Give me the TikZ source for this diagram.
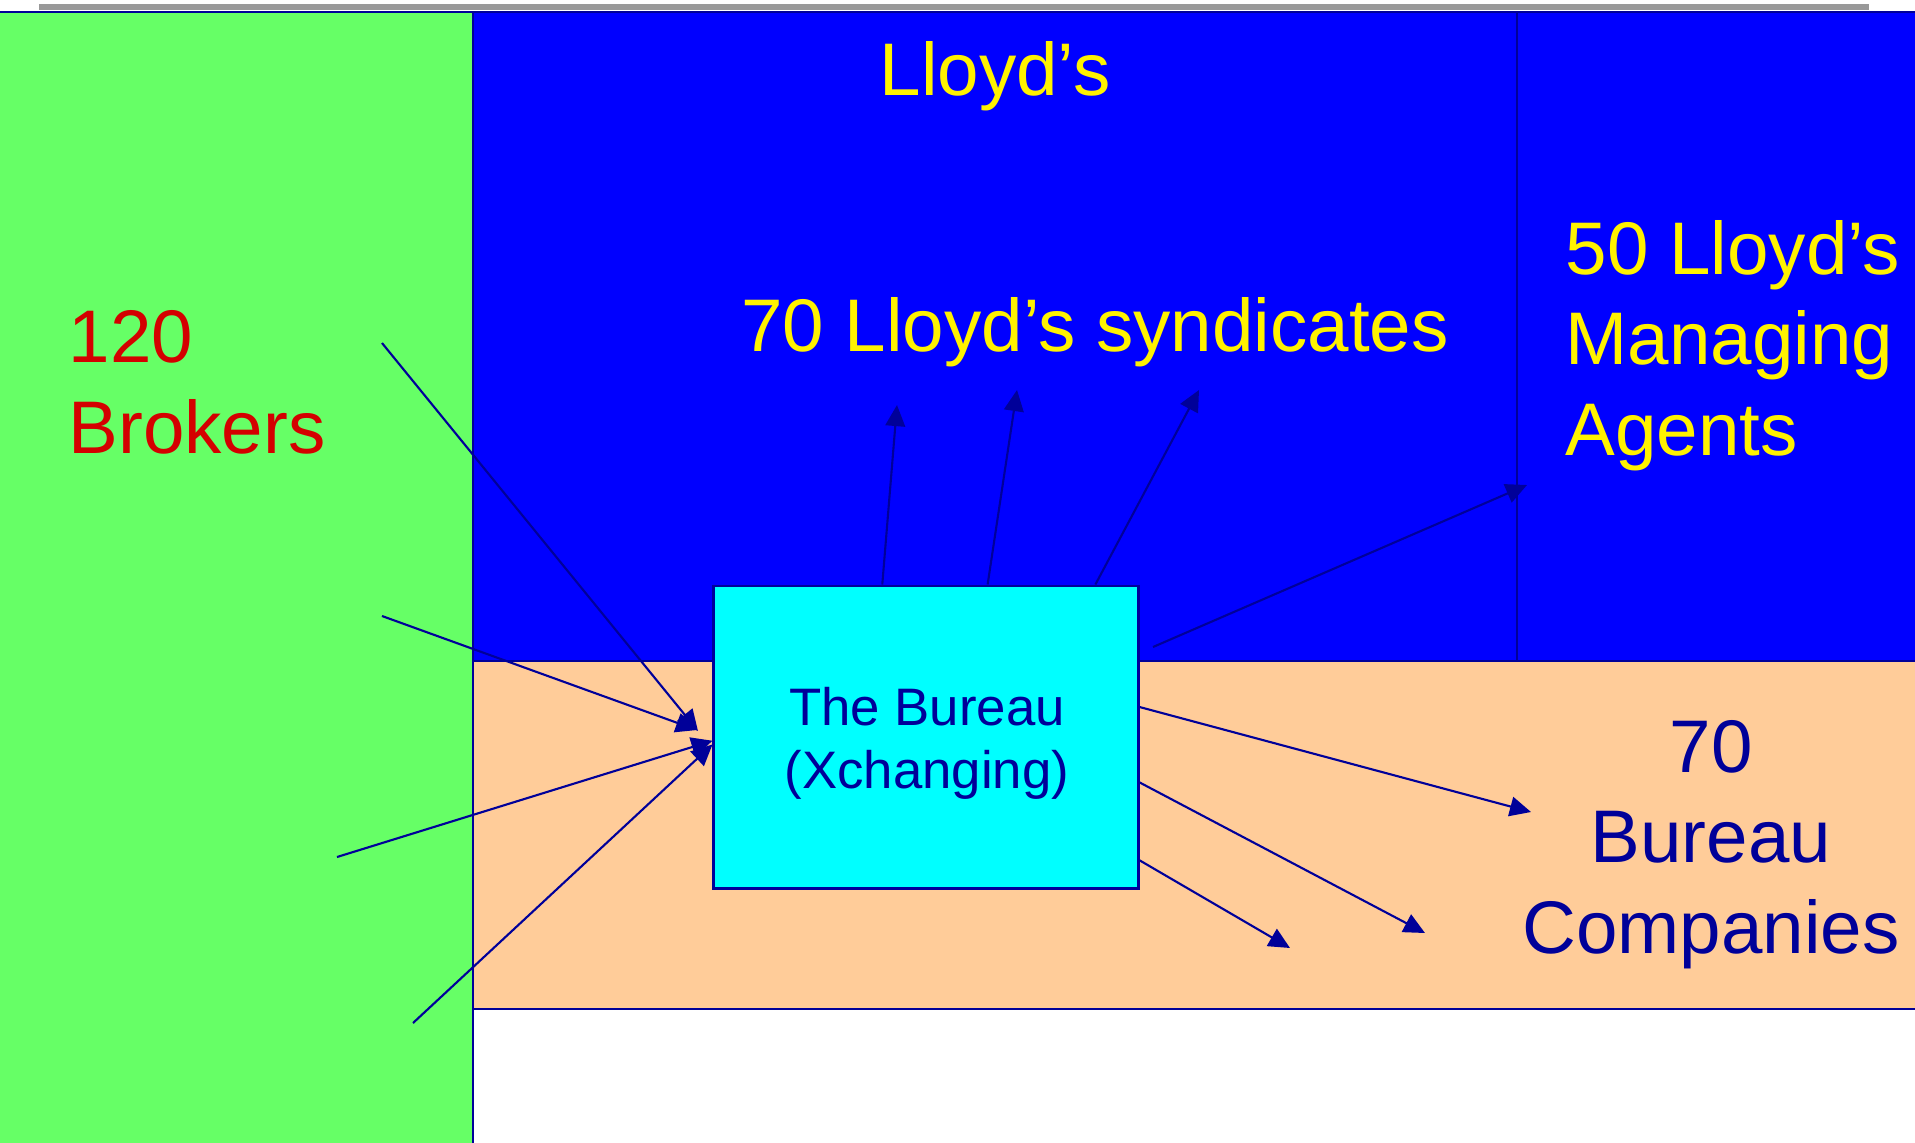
\documentclass[tikz,border=0pt]{standalone}
\usepackage{fontspec}
\setmainfont{Liberation Sans}
\usepackage{tikz}
\usetikzlibrary{arrows.meta}
\definecolor{brokergreen}{HTML}{66FF66}
\definecolor{lloydsblue}{HTML}{0000FF}
\definecolor{bureaupeach}{HTML}{FFCC99}
\definecolor{bureaucyan}{HTML}{00FFFF}
\definecolor{bureaunavy}{HTML}{000099}
\definecolor{brokerred}{HTML}{D40000}
\definecolor{rulegray}{HTML}{999999}
\tikzset{
  flow/.style={draw=bureaunavy, line width=0.6pt, -{Triangle[length=6pt,width=5.6pt]}},
  bigtext/.style={inner sep=0pt, font=\fontsize{21.2}{25.6}\selectfont},
  region/.style={draw=bureaunavy, line width=0.5pt}
}

\begin{document}
\begin{tikzpicture}[x=0.01cm, y=-0.01cm]
    \useasboundingbox (0,0) rectangle (1915,1142);

                \fill[rulegray] (39,4) rectangle (1869,10);
                \filldraw[region, fill=brokergreen] (-5,12) rectangle (473,1150);
                \filldraw[region, fill=lloydsblue] (473,12) rectangle (1920,661);
                \filldraw[region, fill=bureaupeach] (473,661) rectangle (1920,1009);
                \draw[region] (1517,12) -- (1517,661);

                \node[draw=bureaunavy, fill=bureaucyan, line width=0.8pt, minimum width=4.24cm, minimum height=3.02cm, inner sep=0pt, align=center, text=bureaunavy, font=\fontsize{15}{17.9}\selectfont] (bureau) at (926,737) {};
                \node[inner sep=0pt, align=center, text=bureaunavy, font=\fontsize{15}{17.9}\selectfont, anchor=base] (bureautext) at (927,788) {The Bureau\\(Xchanging)};

                \node[bigtext, text=yellow, anchor=base] (lloyds) at (995,95) {Lloyd’s};
                \node[bigtext, text=yellow, anchor=base] (syndicates) at (1095,351) {70 Lloyd’s syndicates};
                \node[bigtext, text=yellow, anchor=base west, align=left] (agents) at (1565,455) {50 Lloyd’s\\Managing\\Agents};
                \node[bigtext, text=brokerred, anchor=base west, align=left] (brokers) at (68,453) {120\\Brokers};
                \node[bigtext, text=bureaunavy, anchor=base, align=center] (companies) at (1711,953) {70\\Bureau\\Companies};

                \coordinate (b1) at (382,343);
                \coordinate (b2) at (382,616);
                \coordinate (b3) at (337,857);
                \coordinate (b4) at (413,1023);
                \coordinate (in1) at (698,731);
                \coordinate (in2) at (697,730);
                \coordinate (s1) at (897,405);
                \coordinate (s2) at (1017,390);
                \coordinate (s3) at (1199,390);
                \coordinate (a0) at (1153,647);
                \coordinate (a1) at (1527,485);
                \coordinate (c1) at (1531,812);
                \coordinate (c2) at (1425,933);
                \coordinate (c3) at (1290,948);

                \draw[flow] (b1) -- (in1);
                \draw[flow] (b2) -- (in2);
                \draw[flow] (b3) -- (bureau.181);
                \draw[flow] (b4) -- (bureau.182);
                \draw[flow] (bureau.106) -- (s1);
                \draw[flow] (bureau.68) -- (s2);
                \draw[flow] (bureau.42) -- (s3);
                \draw[flow] (a0) -- (a1);
                \draw[flow] (bureau.8) -- (c1);
                \draw[flow] (bureau.-12) -- (c2);
                \draw[flow] (bureau.-30) -- (c3);

            \end{tikzpicture}
\end{document}
